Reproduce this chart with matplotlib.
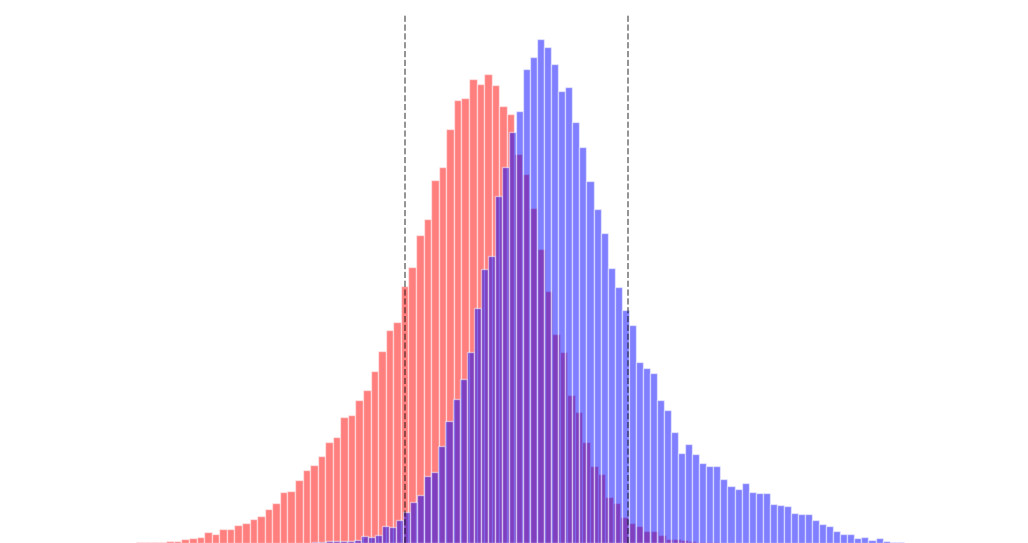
import numpy as np
import matplotlib
matplotlib.use("Agg")
import matplotlib.pyplot as plt

# bin heights (arbitrary count units)
red_counts = [1.0, 1.3, 1.5, 1.5, 1.7, 2.3, 3.7, 5, 6.3, 10.7,
              9, 13.7, 13.7, 17.7, 19.7, 23.7, 26.7, 34.3, 39.7, 50.7,
              52.3, 63.3, 73, 78, 87, 100.7, 106, 125.7, 128.3, 142.7,
              153.3, 172.3, 192.3, 212.7, 221.3, 257.3, 275.7, 307.7, 324, 362.7,
              375.7, 413.7, 443, 444.7, 464, 459, 469.3, 458, 437.3, 429,
              389, 368.7, 335.3, 293.7, 252, 209, 191.3, 148, 130.7, 100.7,
              77, 69.5, 46, 40, 26.3, 20, 16.7, 11.7, 12, 8,
              4, 4, 3.3, 2.3, 1, 1, 1.3, 0.5]

blue_counts = [0.7, 0.7, 1.7, 2, 1.7, 1.7, 3.3, 7, 6.3, 8,
               17, 15.7, 23.5, 31, 40.7, 48.3, 67.3, 70.7, 96.7, 122.3,
               143.7, 164, 190.7, 235.3, 274.3, 287.3, 347, 376.3, 411.3, 432.3,
               474.3, 485.7, 503.7, 495.7, 478.7, 451.7, 455.7, 421, 396.3, 361.7,
               333.7, 310.3, 274.7, 256, 232.7, 218, 181, 174.7, 169.7, 143,
               132.7, 111.3, 90.3, 99, 88.7, 79.7, 77, 77, 64, 57,
               54.3, 59.7, 51, 50, 50, 39, 38.3, 37.3, 30.3, 29.3,
               29, 22.7, 19, 16.7, 12, 9.3, 9.3, 5.3, 6.3, 3.3,
               5, 2, 1, 0.7]

# bin grids (start, bin width) for each sample
red_start, red_width = -5.027, 0.10807
blue_start, blue_width = -2.521, 0.10071

# dashed reference lines
cut_lines = [-1.179, 1.993]

red_edges = red_start + red_width * np.arange(len(red_counts) + 1)
blue_edges = blue_start + blue_width * np.arange(len(blue_counts) + 1)

fig = plt.figure(figsize=(10.28, 5.43), dpi=100)
ax = fig.add_axes([0, 0, 1, 530 / 543])

ax.hist(red_edges[:-1], bins=red_edges, weights=red_counts,
        color='red', alpha=0.5, edgecolor='white', linewidth=1)
ax.hist(blue_edges[:-1], bins=blue_edges, weights=blue_counts,
        color='blue', alpha=0.5, edgecolor='white', linewidth=1)

for c in cut_lines:
    ax.axvline(c, color='k', linestyle='--', linewidth=1.2, alpha=0.5)

ax.set_xlim(-6.971, 7.714)
ax.set_ylim(0, 530)
ax.axis('off')

fig.savefig("out.png", dpi=100)
